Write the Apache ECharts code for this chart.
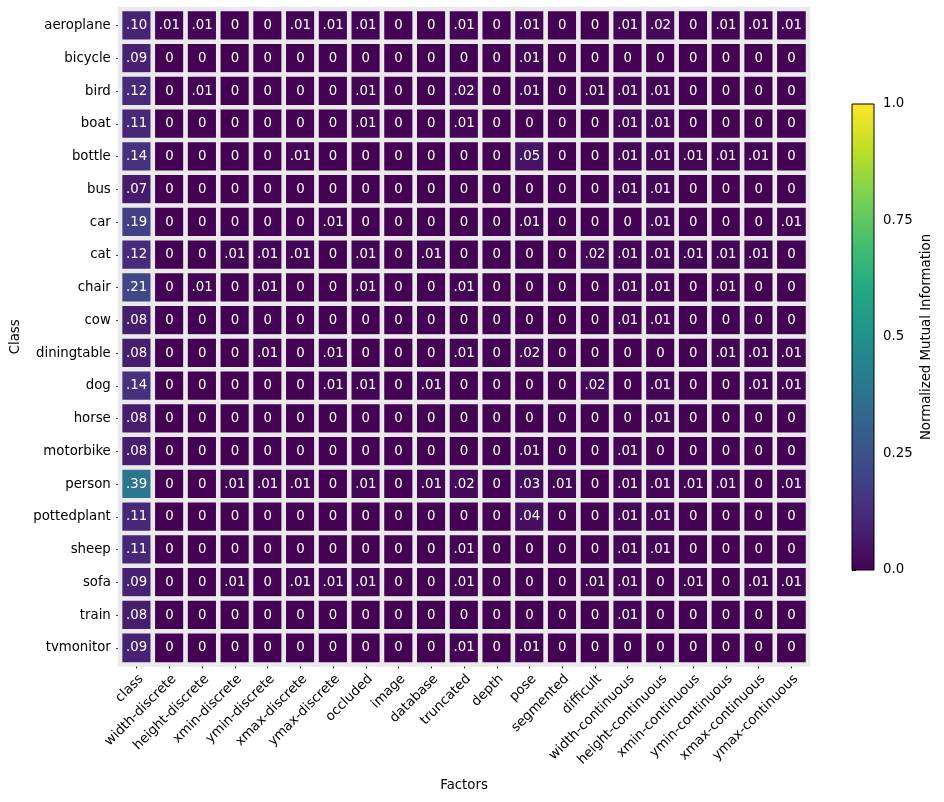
<!DOCTYPE html>
<html>
<head>
<meta charset="utf-8">
<script src="https://cdn.jsdelivr.net/npm/echarts@6.0.0/dist/echarts.min.js"></script>
<style>
html, body { margin: 0; padding: 0; background: #fff; }
#main { width: 944px; height: 802px; }
</style>
</head>
<body>
<div id="main"></div>
<script>
'use strict';

var classes = ['aeroplane', 'bicycle', 'bird', 'boat', 'bottle', 'bus', 'car', 'cat', 'chair', 'cow',
	'diningtable', 'dog', 'horse', 'motorbike', 'person', 'pottedplant', 'sheep', 'sofa', 'train', 'tvmonitor'];

var factors = ['class', 'width-discrete', 'height-discrete', 'xmin-discrete', 'ymin-discrete', 'xmax-discrete',
	'ymax-discrete', 'occluded', 'image', 'database', 'truncated', 'depth', 'pose', 'segmented', 'difficult',
	'width-continuous', 'height-continuous', 'xmin-continuous', 'ymin-continuous', 'xmax-continuous', 'ymax-continuous'];

// one row per class, one value per factor
var nmi = [
	[.10, .01, .01, 0, 0, .01, .01, .01, 0, 0, .01, 0, .01, 0, 0, .01, .02, 0, .01, .01, .01],  // aeroplane
	[.09, 0, 0, 0, 0, 0, 0, 0, 0, 0, 0, 0, .01, 0, 0, 0, 0, 0, 0, 0, 0],                        // bicycle
	[.12, 0, .01, 0, 0, 0, 0, .01, 0, 0, .02, 0, .01, 0, .01, .01, .01, 0, 0, 0, 0],            // bird
	[.11, 0, 0, 0, 0, 0, 0, .01, 0, 0, .01, 0, 0, 0, 0, .01, .01, 0, 0, 0, 0],                  // boat
	[.14, 0, 0, 0, 0, .01, 0, 0, 0, 0, 0, 0, .05, 0, 0, .01, .01, .01, .01, .01, 0],            // bottle
	[.07, 0, 0, 0, 0, 0, 0, 0, 0, 0, 0, 0, 0, 0, 0, .01, .01, 0, 0, 0, 0],                      // bus
	[.19, 0, 0, 0, 0, 0, .01, 0, 0, 0, 0, 0, .01, 0, 0, 0, .01, 0, 0, 0, .01],                  // car
	[.12, 0, 0, .01, .01, .01, 0, .01, 0, .01, 0, 0, 0, 0, .02, .01, .01, .01, .01, .01, 0],    // cat
	[.21, 0, .01, 0, .01, 0, 0, .01, 0, 0, .01, 0, 0, 0, 0, .01, .01, 0, .01, 0, 0],            // chair
	[.08, 0, 0, 0, 0, 0, 0, 0, 0, 0, 0, 0, 0, 0, 0, .01, .01, 0, 0, 0, 0],                      // cow
	[.08, 0, 0, 0, .01, 0, .01, 0, 0, 0, .01, 0, .02, 0, 0, 0, 0, 0, .01, .01, .01],            // diningtable
	[.14, 0, 0, 0, 0, 0, .01, .01, 0, .01, 0, 0, 0, 0, .02, 0, .01, 0, 0, .01, .01],            // dog
	[.08, 0, 0, 0, 0, 0, 0, 0, 0, 0, 0, 0, 0, 0, 0, 0, .01, 0, 0, 0, 0],                        // horse
	[.08, 0, 0, 0, 0, 0, 0, 0, 0, 0, 0, 0, .01, 0, 0, .01, 0, 0, 0, 0, 0],                      // motorbike
	[.39, 0, 0, .01, .01, .01, 0, .01, 0, .01, .02, 0, .03, .01, 0, .01, .01, .01, .01, 0, .01], // person
	[.11, 0, 0, 0, 0, 0, 0, 0, 0, 0, 0, 0, .04, 0, 0, .01, .01, 0, 0, 0, 0],                    // pottedplant
	[.11, 0, 0, 0, 0, 0, 0, 0, 0, 0, .01, 0, 0, 0, 0, .01, .01, 0, 0, 0, 0],                    // sheep
	[.09, 0, 0, .01, 0, .01, .01, .01, 0, 0, .01, 0, 0, 0, .01, .01, 0, .01, 0, .01, .01],      // sofa
	[.08, 0, 0, 0, 0, 0, 0, 0, 0, 0, 0, 0, 0, 0, 0, .01, 0, 0, 0, 0, 0],                        // train
	[.09, 0, 0, 0, 0, 0, 0, 0, 0, 0, .01, 0, .01, 0, 0, 0, 0, 0, 0, 0, 0]                       // tvmonitor
];

var cbarTicks = [0, 0.25, 0.5, 0.75, 1];

var viridis = ['#440154', '#482475', '#414487', '#355f8d', '#2a788e', '#21918c',
	'#22a884', '#44bf70', '#7ad151', '#bddf26', '#fde725'];

var font = 'DejaVu Sans';
var fs = 13.3;

var cells = [];
for (var r = 0; r < nmi.length; r++) {
	for (var c = 0; c < nmi[r].length; c++) {
		cells.push([c, r, nmi[r][c]]);
	}
}

// colour bar gradient, top = 1.0
var cbarStops = [];
for (var i = viridis.length - 1; i >= 0; i--) {
	cbarStops.push({ offset: 1 - i / (viridis.length - 1), color: viridis[i] });
}

var chart = echarts.init(document.getElementById('main'), null, { renderer: 'canvas' });
chart.setOption({
	animation: false,
	backgroundColor: '#fff',
	textStyle: { fontFamily: font },
	grid: [{
		left: 120.3, top: 9.3, width: 687.5, height: 655,
		outerBoundsMode: 'none'
	}, {
		left: 852, top: 104, width: 22, height: 466,
		show: true,
		z: 10,
		backgroundColor: {
			type: 'linear', x: 0, y: 0, x2: 0, y2: 1,
			colorStops: cbarStops
		},
		borderColor: '#000',
		borderWidth: 1,
		outerBoundsMode: 'none'
	}],
	xAxis: [{
		type: 'category',
		gridIndex: 0,
		data: factors,
		position: 'bottom',
		axisLine: { show: false },
		axisTick: { show: true, alignWithLabel: true, length: 4, lineStyle: { color: '#000', width: 1 } },
		axisLabel: {
			rotate: 45, margin: 8, verticalAlign: 'top',
			color: '#000', fontSize: fs, fontFamily: font, interval: 0
		},
		splitLine: { show: false },
		name: 'Factors',
		nameLocation: 'middle',
		nameGap: 115,
		nameTextStyle: { color: '#000', fontSize: fs, fontFamily: font }
	}, {
		type: 'value',
		gridIndex: 1,
		show: false,
		min: 0, max: 1
	}],
	yAxis: [{
		type: 'category',
		gridIndex: 0,
		data: classes,
		inverse: true,
		axisLine: { show: false },
		axisTick: { show: true, alignWithLabel: true, length: 4, lineStyle: { color: '#000', width: 1 } },
		axisLabel: { margin: 9.5, color: '#000', fontSize: fs, fontFamily: font, interval: 0 },
		splitLine: { show: false },
		name: 'Class',
		nameLocation: 'middle',
		nameGap: 97,
		nameTextStyle: { color: '#000', fontSize: fs, fontFamily: font }
	}, {
		type: 'value',
		gridIndex: 1,
		position: 'right',
		min: 0, max: 1,
		interval: 0.25,
		axisLine: { show: false },
		axisTick: { show: true, length: 4, lineStyle: { color: '#000', width: 1 } },
		axisLabel: {
			margin: 9, color: '#000', fontSize: fs, fontFamily: font,
			formatter: function (v) {
				if (v === 0) return '0.0';
				if (v === 1) return '1.0';
				return String(v);
			}
		},
		splitLine: { show: false },
		name: 'Normalized Mutual Information',
		nameLocation: 'middle',
		nameRotate: 90,
		nameGap: 46,
		nameTextStyle: { color: '#000', fontSize: fs, fontFamily: font }
	}],
	visualMap: {
		show: false,
		type: 'continuous',
		seriesIndex: 0,
		min: 0,
		max: 1,
		inRange: { color: viridis }
	},
	series: [{
		type: 'heatmap',
		xAxisIndex: 0,
		yAxisIndex: 0,
		data: cells,
		itemStyle: { borderColor: '#eaeaea', borderWidth: 4.6 },
		label: {
			show: true,
			color: '#fff',
			fontSize: fs,
			fontFamily: font,
			formatter: function (p) {
				var v = p.value[2];
				return v === 0 ? '0' : v.toFixed(2).replace(/^0/, '');
			}
		},
		emphasis: { disabled: true }
	}]
});
</script>
</body>
</html>
